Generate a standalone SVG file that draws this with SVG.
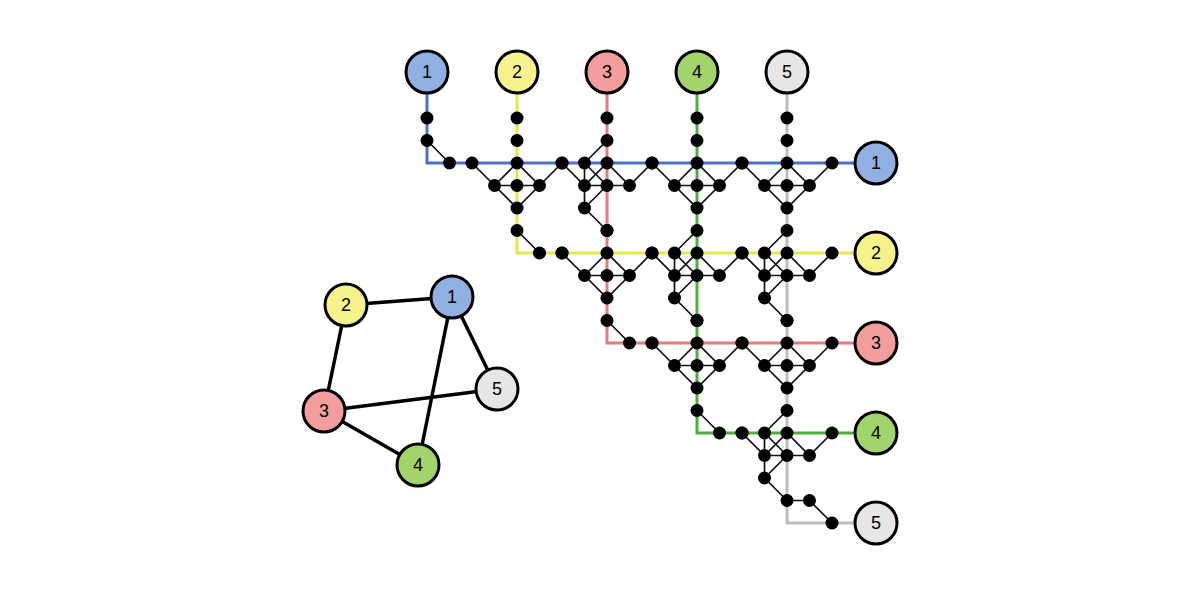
<svg xmlns="http://www.w3.org/2000/svg" xmlns:xlink="http://www.w3.org/1999/xlink" width="1200" height="600" viewBox="0 0 1200 600">
<style>
.e{fill:none;stroke:#111;stroke-width:1.7}
.d{fill:#000}
.n{stroke:#000;stroke-width:3}
.t{font-family:"Liberation Sans",Arial,sans-serif;font-size:18px;text-anchor:middle;fill:#000}
.l{fill:none;stroke-width:3}
.ge{stroke:#000;stroke-width:3.5}
</style>
<defs>
<g id="S">
<path class="e" d="M-45 0L-22.5 22.5L0 45L22.5 22.5L45 0M-22.5 22.5L0 0L22.5 22.5H-22.5"/>
<circle class="d" cx="0" cy="0" r="6.5"/><circle class="d" cx="-22.5" cy="22.5" r="6.5"/><circle class="d" cx="0" cy="22.5" r="6.5"/><circle class="d" cx="22.5" cy="22.5" r="6.5"/><circle class="d" cx="0" cy="45" r="6.5"/><circle class="d" cx="-45" cy="0" r="6.5"/><circle class="d" cx="45" cy="0" r="6.5"/><circle class="d" cx="0" cy="-22.5" r="6.5"/>
</g>
<g id="A">
<path class="e" d="M0 -22.5L-22.5 0L0 22.5M-45 0L-22.5 22.5L0 0L22.5 22.5L45 0M-22.5 0V45L0 67.5M-22.5 22.5H22.5M0 22.5L-22.5 45"/>
<circle class="d" cx="0" cy="-22.5" r="6.5"/><circle class="d" cx="-45" cy="0" r="6.5"/><circle class="d" cx="-22.5" cy="0" r="6.5"/><circle class="d" cx="0" cy="0" r="6.5"/><circle class="d" cx="-22.5" cy="22.5" r="6.5"/><circle class="d" cx="0" cy="22.5" r="6.5"/><circle class="d" cx="22.5" cy="22.5" r="6.5"/><circle class="d" cx="-22.5" cy="45" r="6.5"/><circle class="d" cx="0" cy="67.5" r="6.5"/><circle class="d" cx="45" cy="0" r="6.5"/>
</g>
</defs>
<rect width="1200" height="600" fill="#fff"/>
<g id="connectors">
<path class="l" stroke="#4a72c8" d="M427 92V163H855"/>
<path class="l" stroke="#e6e64a" d="M517 92V253H855"/>
<path class="l" stroke="#e77b7b" d="M607 92V343H855"/>
<path class="l" stroke="#4caf3a" d="M697 92V433H855"/>
<path class="l" stroke="#bdbdbd" d="M787 92V523H855"/>
<path class="e" d="M427 140.5L449.5 163M517 230.5L539.5 253M607 320.5L629.5 343M697 410.5L719.5 433M787 500.5H809.5L832 523"/>
<path class="ge" d="M452 297L346 305M452 297L497 389M452 297L418 465M346 305L324 411M324 411L497 389M324 411L418 465"/>
</g>
<g id="gadgets">
<use xlink:href="#S" x="517" y="163"/>
<use xlink:href="#A" x="607" y="163"/>
<use xlink:href="#S" x="697" y="163"/>
<use xlink:href="#S" x="787" y="163"/>
<use xlink:href="#S" x="607" y="253"/>
<use xlink:href="#A" x="697" y="253"/>
<use xlink:href="#A" x="787" y="253"/>
<use xlink:href="#S" x="697" y="343"/>
<use xlink:href="#S" x="787" y="343"/>
<use xlink:href="#A" x="787" y="433"/>
</g>
<g id="dots">
<circle class="d" cx="427" cy="118" r="6.5"/><circle class="d" cx="427" cy="140.5" r="6.5"/><circle class="d" cx="449.5" cy="163" r="6.5"/>
<circle class="d" cx="517" cy="118" r="6.5"/><circle class="d" cx="607" cy="118" r="6.5"/><circle class="d" cx="697" cy="118" r="6.5"/><circle class="d" cx="787" cy="118" r="6.5"/>
<circle class="d" cx="517" cy="230.5" r="6.5"/><circle class="d" cx="539.5" cy="253" r="6.5"/><circle class="d" cx="562" cy="253" r="6.5"/>
<circle class="d" cx="607" cy="320.5" r="6.5"/><circle class="d" cx="629.5" cy="343" r="6.5"/><circle class="d" cx="652" cy="343" r="6.5"/>
<circle class="d" cx="697" cy="410.5" r="6.5"/><circle class="d" cx="719.5" cy="433" r="6.5"/><circle class="d" cx="742" cy="433" r="6.5"/>
<circle class="d" cx="809.5" cy="500.5" r="6.5"/><circle class="d" cx="832" cy="523" r="6.5"/>
</g>
<g id="top1"><circle class="n" cx="427" cy="72" r="21" fill="#8fb0e0"/><text class="t" x="427" y="78">1</text></g>
<g id="top2"><circle class="n" cx="517" cy="72" r="21" fill="#f6f38d"/><text class="t" x="517" y="78">2</text></g>
<g id="top3"><circle class="n" cx="607" cy="72" r="21" fill="#f49d9d"/><text class="t" x="607" y="78">3</text></g>
<g id="top4"><circle class="n" cx="697" cy="72" r="21" fill="#a3d36b"/><text class="t" x="697" y="78">4</text></g>
<g id="top5"><circle class="n" cx="787" cy="72" r="21" fill="#e6e6e6"/><text class="t" x="787" y="78">5</text></g>
<g id="right1"><circle class="n" cx="876" cy="163" r="21" fill="#8fb0e0"/><text class="t" x="876" y="169">1</text></g>
<g id="right2"><circle class="n" cx="876" cy="253" r="21" fill="#f6f38d"/><text class="t" x="876" y="259">2</text></g>
<g id="right3"><circle class="n" cx="876" cy="343" r="21" fill="#f49d9d"/><text class="t" x="876" y="349">3</text></g>
<g id="right4"><circle class="n" cx="876" cy="433" r="21" fill="#a3d36b"/><text class="t" x="876" y="439">4</text></g>
<g id="right5"><circle class="n" cx="876" cy="523" r="21" fill="#e6e6e6"/><text class="t" x="876" y="529">5</text></g>
<g id="g1"><circle class="n" cx="452" cy="297" r="21" fill="#8fb0e0"/><text class="t" x="452" y="303">1</text></g>
<g id="g2"><circle class="n" cx="346" cy="305" r="21" fill="#f6f38d"/><text class="t" x="346" y="311">2</text></g>
<g id="g3"><circle class="n" cx="324" cy="411" r="21" fill="#f49d9d"/><text class="t" x="324" y="417">3</text></g>
<g id="g4"><circle class="n" cx="418" cy="465" r="21" fill="#a3d36b"/><text class="t" x="418" y="471">4</text></g>
<g id="g5"><circle class="n" cx="497" cy="389" r="21" fill="#e6e6e6"/><text class="t" x="497" y="395">5</text></g>
</svg>
